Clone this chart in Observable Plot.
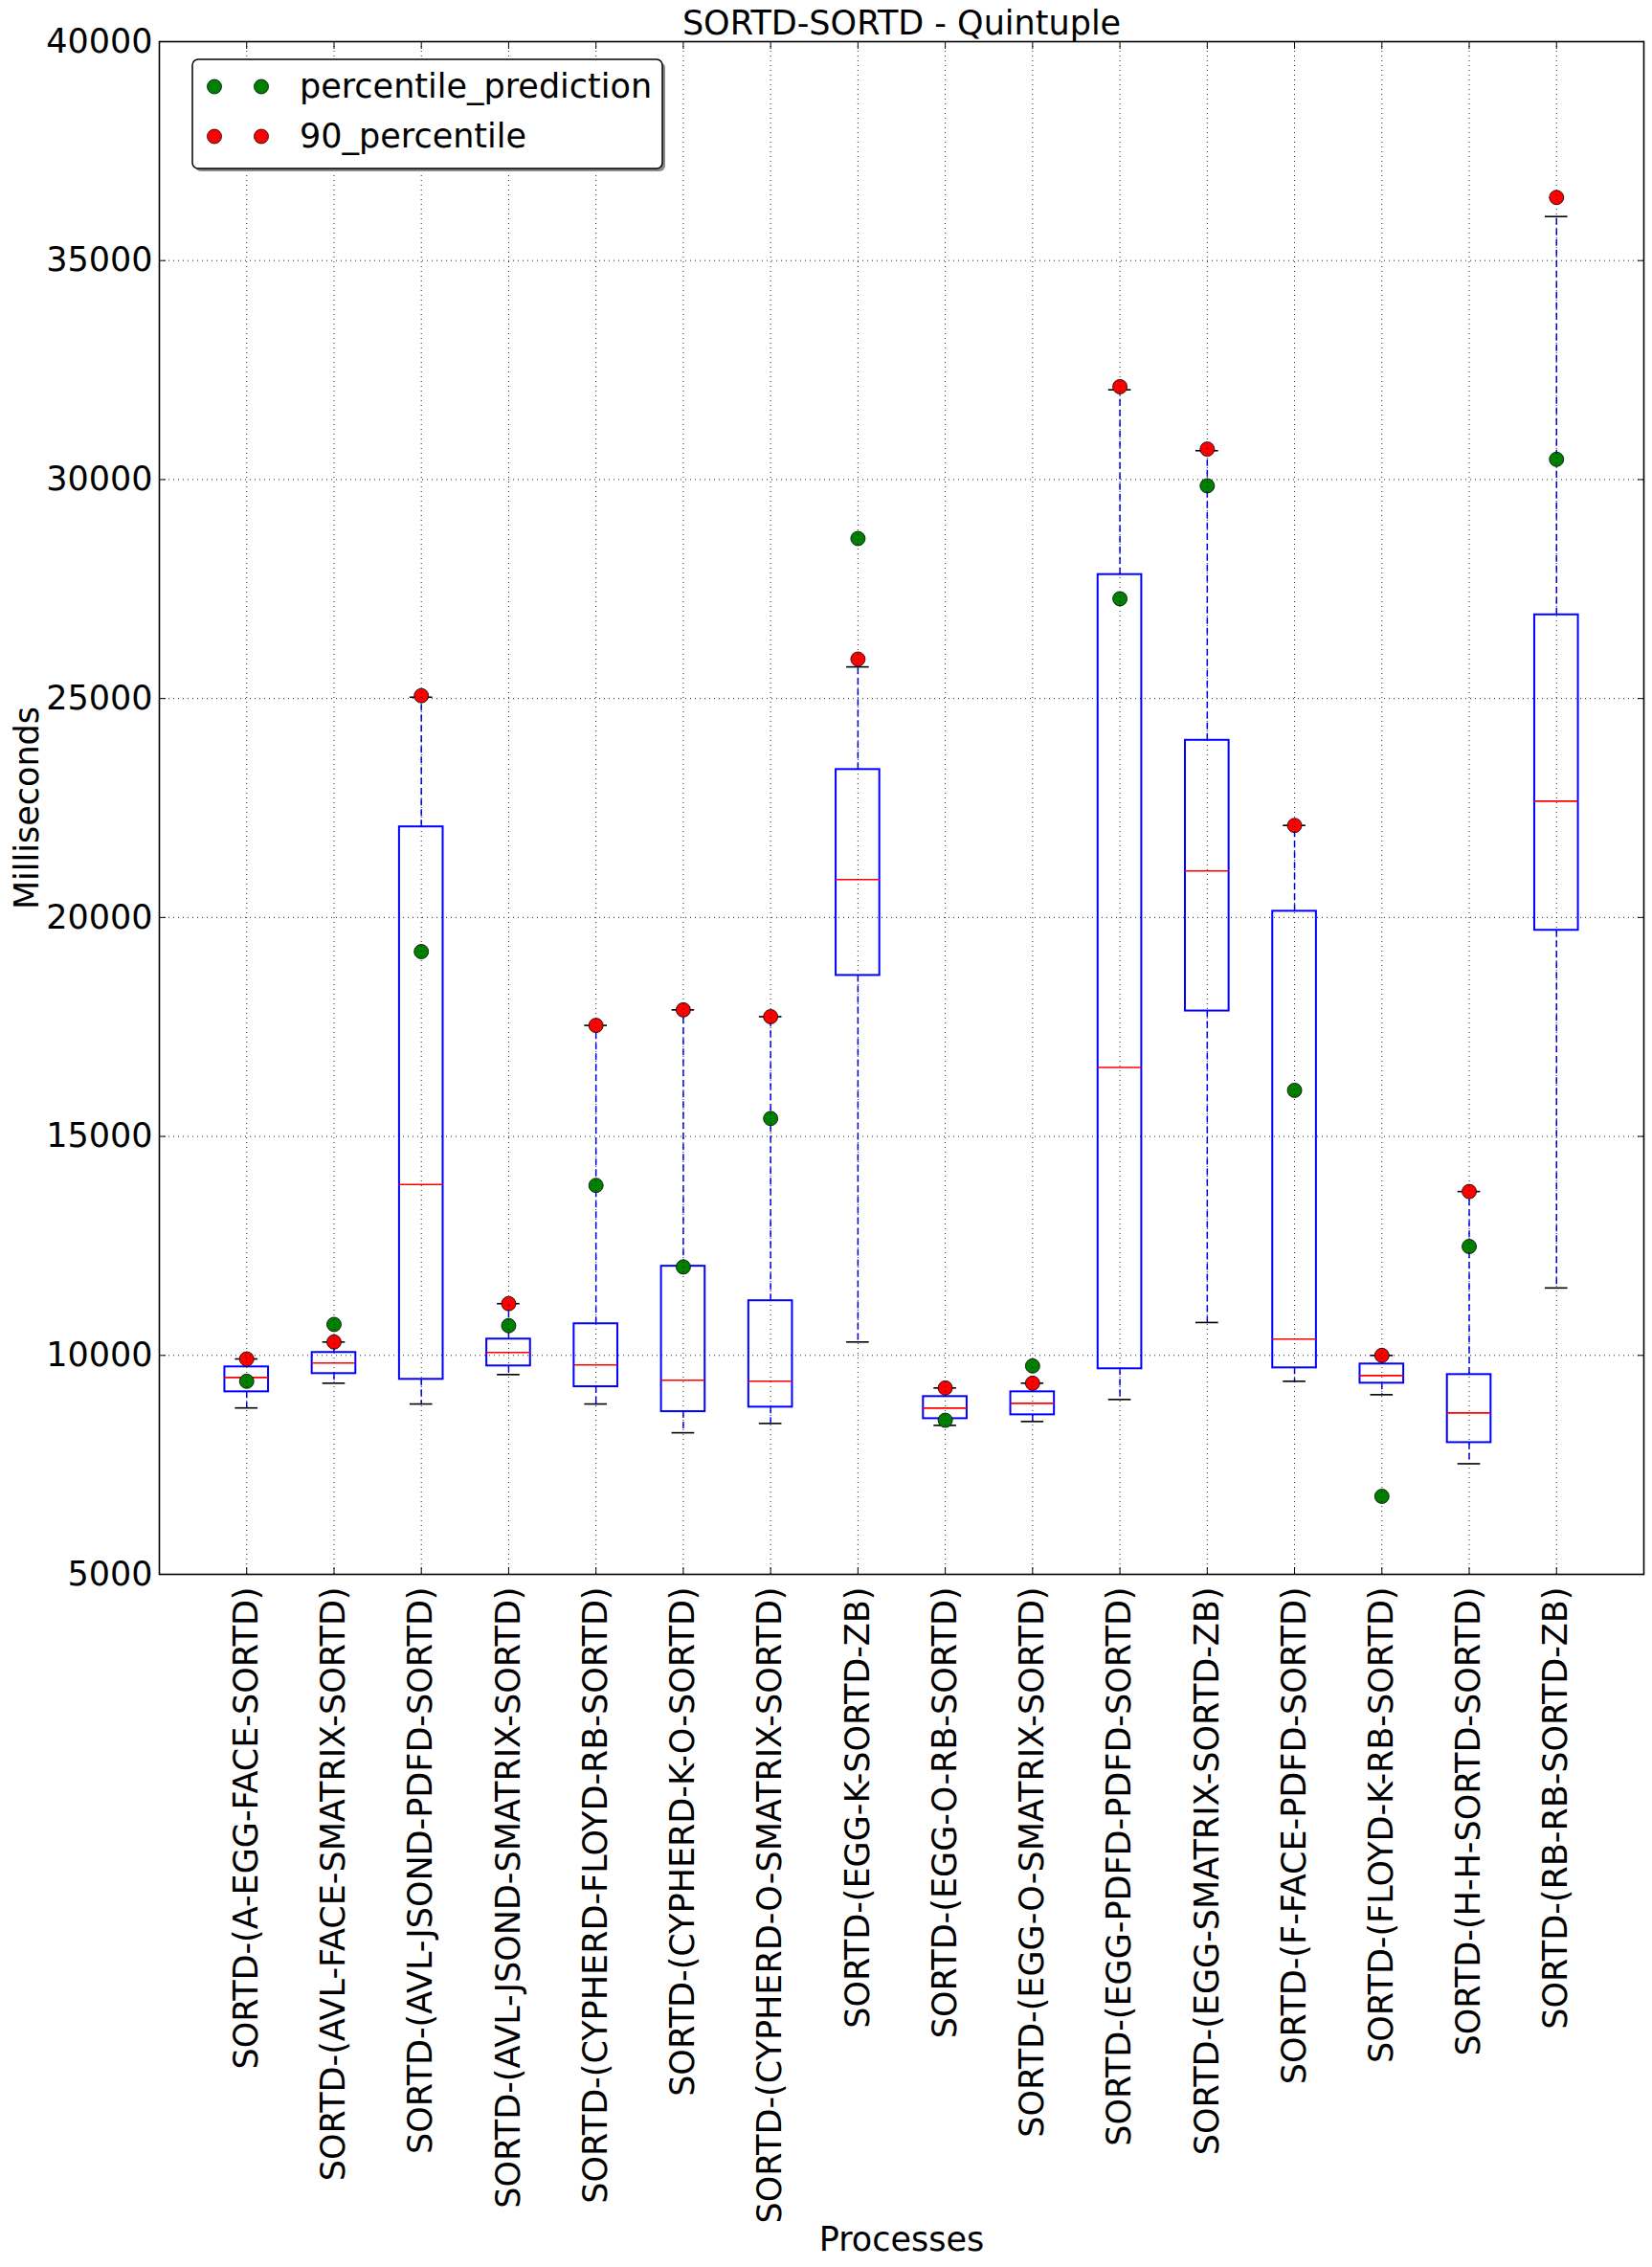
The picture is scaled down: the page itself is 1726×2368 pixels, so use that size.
<!DOCTYPE html>
<html>
<head>
<meta charset="utf-8">
<script src="https://cdn.jsdelivr.net/npm/d3@7"></script>
<script src="https://cdn.jsdelivr.net/npm/@observablehq/plot@0.6"></script>
<style>
  html, body { margin: 0; padding: 0; background: white; overflow: hidden; }
  #wrap { position: relative; width: 1726px; height: 2368px; }
  #wrap svg { display: block; }
  #legend { position: absolute; left: 0; top: 0; pointer-events: none; }
</style>
</head>
<body>
<div id="wrap"></div>
<script>
const title = "SORTD-SORTD - Quintuple";
const xLabel = "Processes";
const yLabel = "Milliseconds";
const yTicks = [5000, 10000, 15000, 20000, 25000, 30000, 35000, 40000];

const categories = [
  "SORTD-(A-EGG-FACE-SORTD)",
  "SORTD-(AVL-FACE-SMATRIX-SORTD)",
  "SORTD-(AVL-JSOND-PDFD-SORTD)",
  "SORTD-(AVL-JSOND-SMATRIX-SORTD)",
  "SORTD-(CYPHERD-FLOYD-RB-SORTD)",
  "SORTD-(CYPHERD-K-O-SORTD)",
  "SORTD-(CYPHERD-O-SMATRIX-SORTD)",
  "SORTD-(EGG-K-SORTD-ZB)",
  "SORTD-(EGG-O-RB-SORTD)",
  "SORTD-(EGG-O-SMATRIX-SORTD)",
  "SORTD-(EGG-PDFD-PDFD-SORTD)",
  "SORTD-(EGG-SMATRIX-SORTD-ZB)",
  "SORTD-(F-FACE-PDFD-SORTD)",
  "SORTD-(FLOYD-K-RB-SORTD)",
  "SORTD-(H-H-SORTD-SORTD)",
  "SORTD-(RB-RB-SORTD-ZB)"
];

const whiskerLow  = [8800, 9365, 8890, 9562, 8890, 8233, 8446, 10306, 8402, 8490, 8993, 10751, 9409, 9102, 7526, 11540];
const q1          = [9168, 9584, 9453, 9759, 9284, 8715, 8818, 18676, 8555, 8643, 9694, 17864, 9715, 9365, 8008, 19707];
const median      = [9496, 9825, 13902, 10066, 9781, 9431, 9409, 20865, 8796, 8905, 16574, 21064, 10372, 9540, 8687, 22655];
const q3          = [9737, 10066, 22069, 10372, 10722, 12036, 11248, 23378, 9059, 9168, 27830, 24046, 20142, 9803, 9562, 26911];
const whiskerHigh = [9919, 10306, 25030, 11182, 17535, 17890, 17735, 25722, 9256, 9365, 32050, 30660, 22102, 10000, 13742, 36006];

const percentile90 = [9919, 10306, 25064, 11182, 17535, 17890, 17735, 25900, 9256, 9365, 32121, 30696, 22102, 10000, 13742, 36442];
const percentilePrediction = [9409, 10707, 19221, 10679, 13882, 12020, 15410, 28654, 8518, 9759, 27279, 29858, 16053, 6782, 12487, 30462];

const seriesNames = ["percentile_prediction", "90_percentile"];
const seriesColors = ["#008000", "#ff0000"];

const rows = categories.map((c, i) => ({
  cat: c, lo: whiskerLow[i], q1: q1[i], med: median[i], q3: q3[i], hi: whiskerHigh[i],
  p90: percentile90[i], pred: percentilePrediction[i]
}));

const BLUE = "#0000ff";
const FS = 35;

const chart = Plot.plot({
  width: 1726,
  height: 2368,
  marginLeft: 166,
  marginRight: 9,
  marginTop: 43,
  marginBottom: 724,
  style: {fontFamily: "'DejaVu Sans', sans-serif", fontSize: "35px", color: "black", background: "white", overflow: "visible"},
  x: {type: "band", domain: categories, paddingInner: 0.5, paddingOuter: 0.75, round: false, axis: null},
  y: {domain: [5000, 40000], axis: null},
  marks: [
    // whiskers
    Plot.ruleX(rows, {x: "cat", y1: "q1", y2: "lo", stroke: BLUE, strokeWidth: 1.5, strokeDasharray: "7,4"}),
    Plot.ruleX(rows, {x: "cat", y1: "q3", y2: "hi", stroke: BLUE, strokeWidth: 1.5, strokeDasharray: "7,4"}),
    // boxes
    Plot.barY(rows, {x: "cat", y1: "q1", y2: "q3", fill: "none", stroke: BLUE, strokeWidth: 2}),
    // medians
    Plot.tickY(rows, {x: "cat", y: "med", stroke: "#ff0000", strokeWidth: 1.6}),
    // caps
    Plot.tickY(rows, {x: "cat", y: "lo", stroke: "black", strokeWidth: 1.6, inset: 11}),
    Plot.tickY(rows, {x: "cat", y: "hi", stroke: "black", strokeWidth: 1.6, inset: 11}),
    // points
    Plot.dot(rows, {x: "cat", y: "pred", r: 7.5, fill: seriesColors[0], stroke: "black", strokeWidth: 0.8}),
    Plot.dot(rows, {x: "cat", y: "p90", r: 7.5, fill: seriesColors[1], stroke: "black", strokeWidth: 0.8}),
    // grid on top (matplotlib classic)
    Plot.gridX({stroke: "black", strokeOpacity: 0.85, strokeWidth: 1, strokeDasharray: "1,4"}),
    Plot.gridY({ticks: yTicks, stroke: "black", strokeOpacity: 0.85, strokeWidth: 1, strokeDasharray: "1,4"}),
    // inward ticks
    Plot.axisX({anchor: "bottom", tickSize: -7, tickFormat: () => "", label: null}),
    Plot.axisX({anchor: "top", tickSize: -7, tickFormat: () => "", label: null}),
    Plot.axisY({anchor: "left", ticks: yTicks, tickSize: -7, tickFormat: () => "", label: null}),
    Plot.axisY({anchor: "right", ticks: yTicks, tickSize: -7, tickFormat: () => "", label: null}),
    Plot.frame({stroke: "black", strokeWidth: 1.6}),
    // y tick labels
    Plot.text(yTicks, {y: d => d, frameAnchor: "left", dx: -7, textAnchor: "end", lineAnchor: "middle", text: d => String(d), fontSize: FS, fill: "black"}),
    // x tick labels
    Plot.text(categories, {x: d => d, frameAnchor: "bottom", dy: 13, rotate: -90, textAnchor: "end", lineAnchor: "middle", fontSize: FS, fill: "black"}),
    // axis labels & title
    Plot.text([yLabel], {frameAnchor: "left", dx: -138, rotate: -90, textAnchor: "middle", lineAnchor: "middle", fontSize: FS, fill: "black"}),
    Plot.text([xLabel], {frameAnchor: "bottom", dy: 695, textAnchor: "middle", lineAnchor: "middle", fontSize: FS, fill: "black"}),
    Plot.text([title], {frameAnchor: "top", dy: -19, textAnchor: "middle", lineAnchor: "middle", fontSize: FS, fill: "black"})
  ]
});

const wrap = document.getElementById("wrap");
wrap.appendChild(chart);

// legend (matplotlib-style, top-left inside the axes)
const svgNS = "http://www.w3.org/2000/svg";
const leg = document.createElementNS(svgNS, "svg");
leg.setAttribute("id", "legend");
leg.setAttribute("width", "1726");
leg.setAttribute("height", "220");
const mk = (tag, attrs) => { const e = document.createElementNS(svgNS, tag); for (const k in attrs) e.setAttribute(k, attrs[k]); leg.appendChild(e); return e; };
mk("rect", {x: 204, y: 65, width: 491, height: 114, rx: 6, fill: "#8a8a8a"});
mk("rect", {x: 201, y: 62, width: 491, height: 114, rx: 6, fill: "white", stroke: "black", "stroke-width": 1.5});
const rowY = [90.5, 142.5];
seriesNames.forEach((name, i) => {
  [224, 273].forEach(cx => mk("circle", {cx, cy: rowY[i], r: 7.5, fill: seriesColors[i], stroke: "black", "stroke-width": 0.8}));
  const t = mk("text", {x: 313, y: rowY[i] + 11.5, "font-family": "'DejaVu Sans', sans-serif", "font-size": FS, fill: "black"});
  t.textContent = name;
});
wrap.appendChild(leg);
</script>
</body>
</html>
